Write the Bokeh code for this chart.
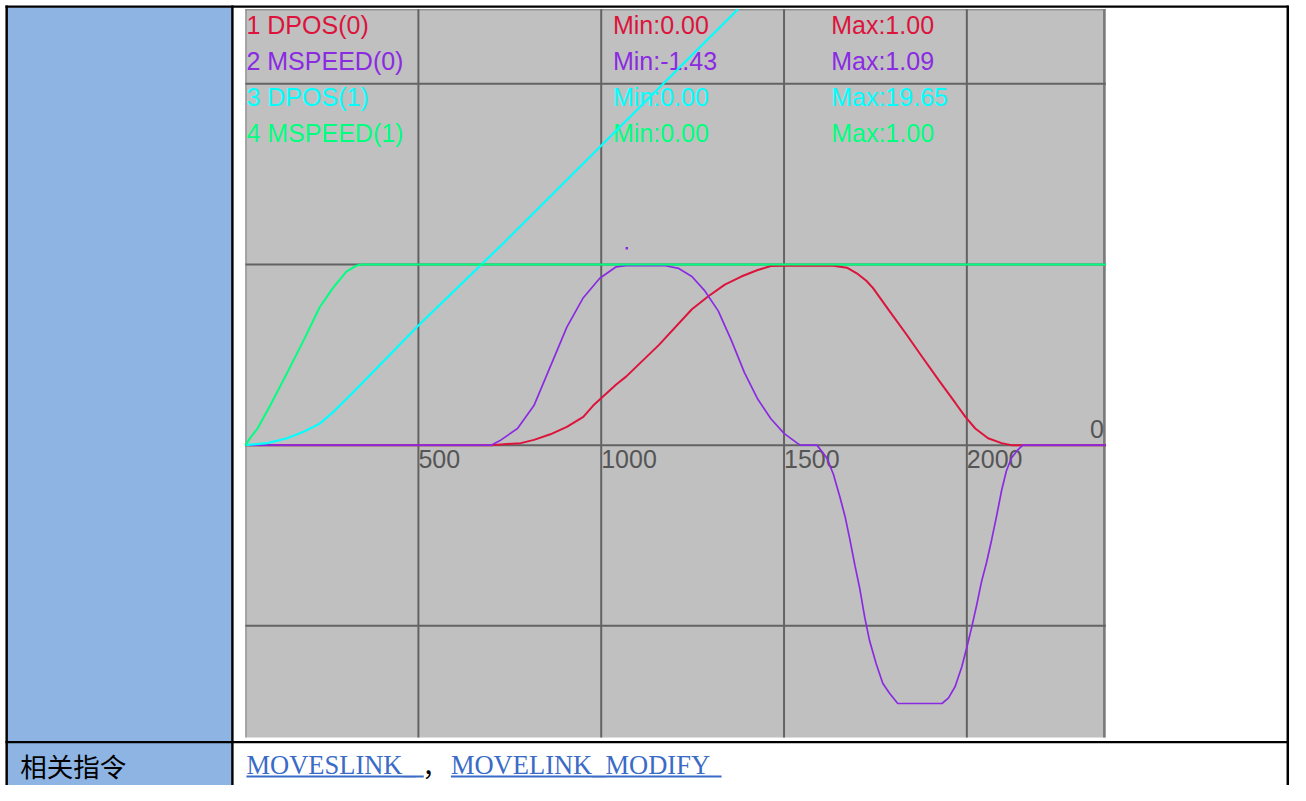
from bokeh.plotting import figure
from bokeh.models import Range1d
from bokeh.embed import file_html
from bokeh.resources import INLINE
from bokeh.core.properties import value

# ---------------- data ----------------
# 1 DPOS(0)  (red)
dpos0_x = [27, 699, 780, 816, 861, 906, 951, 978, 1041, 1068, 1158, 1248, 1293, 1338,
           1383, 1428, 1464, 1500, 1635, 1672, 1699, 1725, 1743, 1788, 1834, 1878,
           1923, 1969, 1996, 2023, 2058, 2095, 2122, 2380]
dpos0_y = [0.0, 0.0, 0.011, 0.029, 0.060, 0.101, 0.156, 0.219, 0.336, 0.379, 0.555, 0.752,
           0.824, 0.888, 0.933, 0.969, 0.991, 0.993, 0.993, 0.982, 0.951, 0.910, 0.870,
           0.743, 0.615, 0.488, 0.360, 0.232, 0.156, 0.092, 0.038, 0.011, 0.0, 0.0]

# 2 MSPEED(0)  (purple)
mspeed0_x = [27, 699, 726, 771, 816, 861, 906, 951, 996, 1041, 1067, 1176, 1212, 1248,
             1284, 1320, 1356, 1392, 1428, 1464, 1500, 1536, 1545, 1590, 1617, 1635,
             1653, 1667, 1680, 1694, 1707, 1721, 1734, 1752, 1770, 1788, 1811, 1932,
             1950, 1968, 1986, 2000, 2013, 2027, 2040, 2054, 2068, 2081, 2095, 2108,
             2122, 2140, 2153, 2380]
mspeed0_y = [0.0, 0.0, 0.029, 0.092, 0.219, 0.436, 0.653, 0.816, 0.924, 0.987, 0.993,
             0.993, 0.978, 0.933, 0.852, 0.743, 0.580, 0.400, 0.255, 0.146, 0.065, 0.011,
             0.0, 0.0, -0.071, -0.161, -0.288, -0.396, -0.522, -0.667, -0.793, -0.956,
             -1.083, -1.210, -1.318, -1.372, -1.43, -1.43, -1.399, -1.336, -1.228, -1.119,
             -1.010, -0.884, -0.757, -0.648, -0.522, -0.396, -0.251, -0.143, -0.071,
             -0.025, 0.0, 0.0]
mspeed0_peak_x = [1070]
mspeed0_peak_y = [1.09]

# 3 DPOS(1)  (cyan)
dpos1_x = [27, 87, 141, 186, 230, 267, 321, 500, 726, 1374]
dpos1_y = [0.0, 0.011, 0.038, 0.074, 0.119, 0.183, 0.291, 0.662, 1.105, 2.412]

# 4 MSPEED(1)  (green)
mspeed1_x = [27, 40, 60, 95, 141, 186, 230, 267, 303, 330, 343, 2380]
mspeed1_y = [0.0, 0.04, 0.092, 0.221, 0.400, 0.580, 0.763, 0.872, 0.960, 0.993, 1.0, 1.0]

series_names = ["1 DPOS(0)", "2 MSPEED(0)", "3 DPOS(1)", "4 MSPEED(1)"]
series_min = [0.00, -1.43, 0.00, 0.00]
series_max = [1.00, 1.09, 19.65, 1.00]
series_colors = ["#DC143C", "#8A2BE2", "#00FFFF", "#00FF7F"]

x_ticks = [500, 1000, 1500, 2000]
x_tick_labels = ["500", "1000", "1500", "2000"]
y_grid = [2, 1, 0, -1]

row_label = "相关指令"
link_texts = ["MOVESLINK_", "MOVELINK_MODIFY"]
separator = "，"

# ---------------- geometry ----------------
W, H = 1290, 785                       # canvas size
RW, RH = 1306, 801                     # layout units (the whole table area)
CL, CR, CT, CB = 248, 1119, 9, 752     # chart box in layout units
X_LO, X_HI = 27, 2380                  # chart data extents
Y_LO, Y_HI = -1.618, 2.412

sx = (CR - CL) / (X_HI - X_LO)
sy = (CB - CT) / (Y_HI - Y_LO)
x_start = X_LO - CL / sx
x_end = X_LO + (RW - CL) / sx
y_end = Y_HI + CT / sy
y_start = Y_LO - (RH - CB) / sy

p = figure(width=W, height=H, x_range=Range1d(x_start, x_end), y_range=Range1d(y_start, y_end),
           x_axis_type=None, y_axis_type=None, output_backend="svg", toolbar_location=None,
           min_border=0, outline_line_color=None, background_fill_color="white",
           border_fill_color="white")
p.extra_x_ranges = {"page": Range1d(0, RW)}
p.extra_y_ranges = {"page": Range1d(RH, 0)}
PG = dict(x_range_name="page", y_range_name="page")

BLUE = "#8EB4E3"
LINK = "#3A6BC6"

# table cells
p.quad(left=[7, 7], right=[233.5, 233.5], top=[7, 757.5], bottom=[755.5, 801],
       fill_color=BLUE, line_color=None, **PG)
# table borders
p.quad(left=[5, 5, 233.5, 5, 1302], right=[1304, 7.5, 236, 1304, 1304.5],
       top=[5, 5, 5, 755.5, 5], bottom=[7.5, 801, 801, 757.8, 801],
       fill_color="black", line_color=None, **PG)

# chart background
p.quad(left=[X_LO], right=[X_HI], bottom=[Y_LO], top=[Y_HI], fill_color="#C0C0C0", line_color=None)
# chart edges
p.segment(x0=[CL + 0.5, CL, CR - 1.5], y0=[CT, CT + 0.5, CT], x1=[CL + 0.5, CR, CR - 1.5],
          y1=[CB, CT + 0.5, CB], line_color="#7A7A7A", line_width=[1, 1, 2.5], **PG)

# grid
p.segment(x0=x_ticks, x1=x_ticks, y0=[Y_LO] * len(x_ticks), y1=[Y_HI] * len(x_ticks),
          line_color="#636363", line_width=2)
p.segment(x0=[X_LO] * len(y_grid), x1=[X_HI] * len(y_grid), y0=y_grid, y1=y_grid,
          line_color="#636363", line_width=2)

FONT = value("Liberation Sans")
FS = "25px"
p.text(x=x_ticks, y=[0] * len(x_ticks), text=x_tick_labels, text_font=FONT,
       text_font_size=FS, text_color="#555555", text_align="left",
       text_baseline="middle", y_offset=13.5)
p.text(x=[X_HI], y=[0], text=["0"], text_font=FONT, text_font_size=FS,
       text_color="#555555", text_align="right", text_baseline="middle",
       x_offset=-2, y_offset=-16)

# legend block
row_y = [25.2 + 36.7 * i for i in range(len(series_names))]
p.text(x=[249] * 4, y=row_y, text=series_names, text_color=series_colors, text_font=FONT,
       text_font_size=FS, text_baseline="middle", **PG)
p.text(x=[620] * 4, y=row_y, text=[f"Min:{v:.2f}" for v in series_min], text_color=series_colors,
       text_font=FONT, text_font_size=FS, text_baseline="middle", **PG)
p.text(x=[841] * 4, y=row_y, text=[f"Max:{v:.2f}" for v in series_max], text_color=series_colors,
       text_font=FONT, text_font_size=FS, text_baseline="middle", **PG)

# curves
p.line(dpos0_x, dpos0_y, line_color=series_colors[0], line_width=2)
p.line(mspeed0_x, mspeed0_y, line_color=series_colors[1], line_width=1.7)
p.scatter(mspeed0_peak_x, mspeed0_peak_y, marker="square", size=2.5,
          fill_color=series_colors[1], line_color=None)
p.line(dpos1_x, dpos1_y, line_color=series_colors[2], line_width=2.2)
p.line(mspeed1_x, mspeed1_y, line_color=series_colors[3], line_width=2)

# bottom row
p.text(x=[20], y=[780.5], text=[row_label], text_font=value("Noto Sans CJK SC"),
       text_font_size="26.5px", text_color="black", text_baseline="middle", **PG)
p.text(x=[249, 456], y=[780, 780], text=link_texts, text_font=value("Liberation Serif"),
       text_font_size="26.5px", text_color=LINK, text_baseline="middle", **PG)
p.text(x=[427], y=[780], text=[separator], text_font=value("Noto Sans CJK SC"),
       text_font_size="25.5px", text_color="black", text_baseline="middle", **PG)
p.segment(x0=[249, 456], x1=[428.5, 730], y0=[791.8, 791.8], y1=[791.8, 791.8],
          line_color=LINK, line_width=2, **PG)

open("out.html", "w").write(file_html(p, INLINE))
